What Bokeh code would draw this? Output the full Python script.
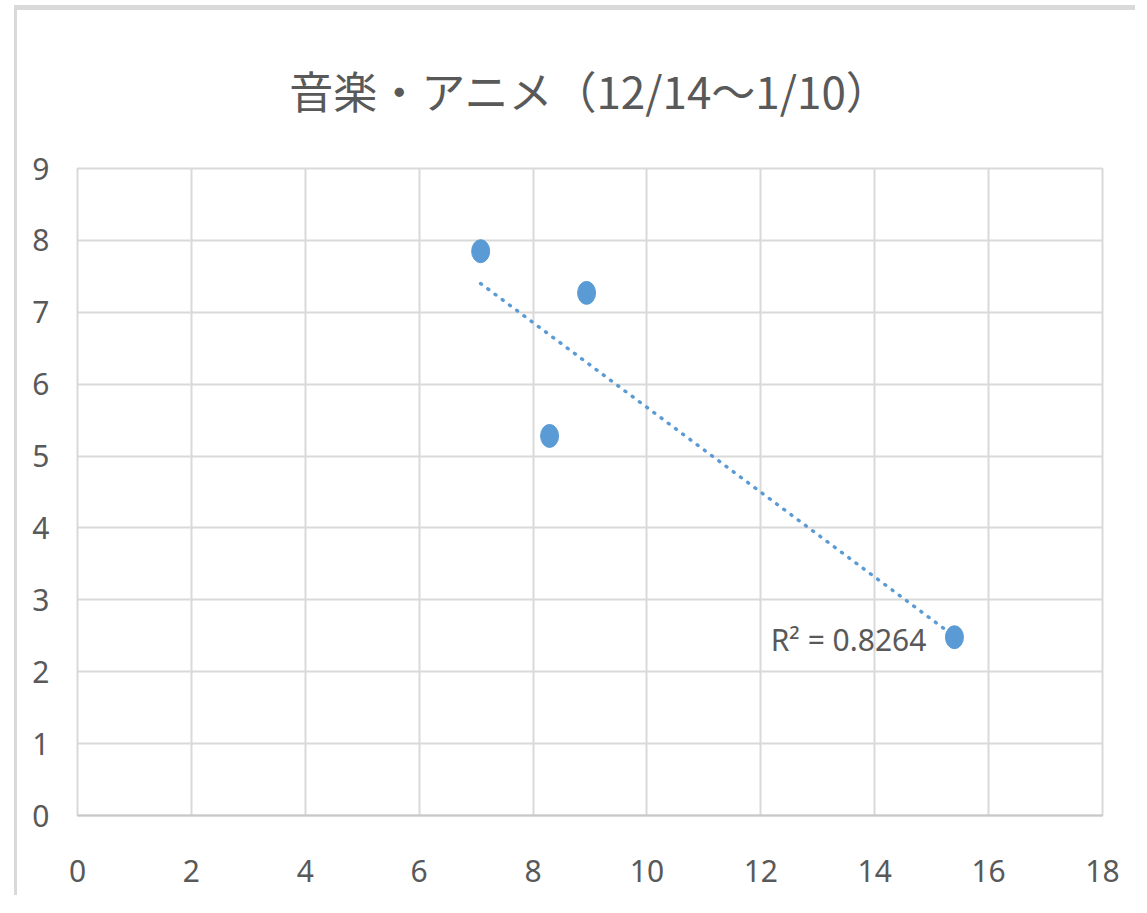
import numpy as np
from bokeh.plotting import figure
from bokeh.models import ColumnDataSource, FixedTicker, Range1d
from bokeh.core.properties import value
from bokeh.embed import file_html
from bokeh.resources import INLINE

# ---- data ----
title_text = "音楽・アニメ（12/14～1/10）"
x_vals = [7.08, 8.94, 8.29, 15.40]
y_vals = [7.85, 7.27, 5.28, 2.48]
r2_value = 0.8264
x_ticks = [0, 2, 4, 6, 8, 10, 12, 14, 16, 18]
y_ticks = [0, 1, 2, 3, 4, 5, 6, 7, 8, 9]

BLUE = "#5B9BD5"
TXT = "#595959"
GRID = "#D9D9D9"
TICK_FONT = "Noto Sans"

p = figure(width=1121, height=890, output_backend="svg", toolbar_location=None,
           x_range=Range1d(x_ticks[0], x_ticks[-1]), y_range=Range1d(y_ticks[0], y_ticks[-1]),
           min_border_left=60, min_border_right=36, min_border_top=158, min_border_bottom=85)
p.background_fill_color = "white"
p.border_fill_color = "white"
p.outline_line_color = GRID
p.outline_line_width = 2
p.styles = {"margin-left": "14px", "margin-top": "5px",
            "border-left": "3px solid #D9D9D9", "border-top": "5px solid #D9D9D9"}

p.title.text = title_text
p.title.align = "center"
p.title.vertical_align = "top"
p.title.text_font = "Noto Sans CJK JP"
p.title.text_font_size = "44px"
p.title.text_font_style = "normal"
p.title.text_color = TXT
p.title.standoff = 90

# grids
p.xgrid.ticker = FixedTicker(ticks=x_ticks)
p.ygrid.ticker = FixedTicker(ticks=y_ticks)
for g in (p.xgrid, p.ygrid):
    g.grid_line_color = GRID
    g.grid_line_width = 2

# axes
p.xaxis.ticker = FixedTicker(ticks=x_ticks)
p.yaxis.ticker = FixedTicker(ticks=y_ticks)
for ax in (p.xaxis, p.yaxis):
    ax.major_tick_line_color = None
    ax.minor_tick_line_color = None
    ax.major_label_text_font = TICK_FONT
    ax.major_label_text_font_size = "30px"
    ax.major_label_text_color = TXT
p.yaxis.axis_line_color = None
p.xaxis.axis_line_color = "#C8C8C8"
p.xaxis.axis_line_width = 2
p.xaxis.major_label_standoff = 38
p.yaxis.major_label_standoff = 22

# trendline (least squares from the data)
xa = np.array(x_vals)
ya = np.array(y_vals)
slope, intercept = np.polyfit(xa, ya, 1)
tx = np.array([xa.min(), xa.max()])
ty = slope * tx + intercept
p.line(tx, ty, line_color=BLUE, line_width=3.5, line_dash="1 8", line_cap="round")

# points
src = ColumnDataSource(dict(x=x_vals, y=y_vals))
p.ellipse("x", "y", width=18, height=23, width_units="screen", height_units="screen",
          source=src, fill_color=BLUE, line_color=BLUE)

# R² label next to the last point
i_last = int(np.argmax(xa))
p.text(x=[x_vals[i_last]], y=[y_vals[i_last]], text=[f"R² = {r2_value}"],
       text_align="right", text_baseline="middle", x_offset=-28, y_offset=2,
       text_font=value(TICK_FONT), text_font_size="30px", text_color=TXT)

open("out.html", "w").write(file_html(p, INLINE))
